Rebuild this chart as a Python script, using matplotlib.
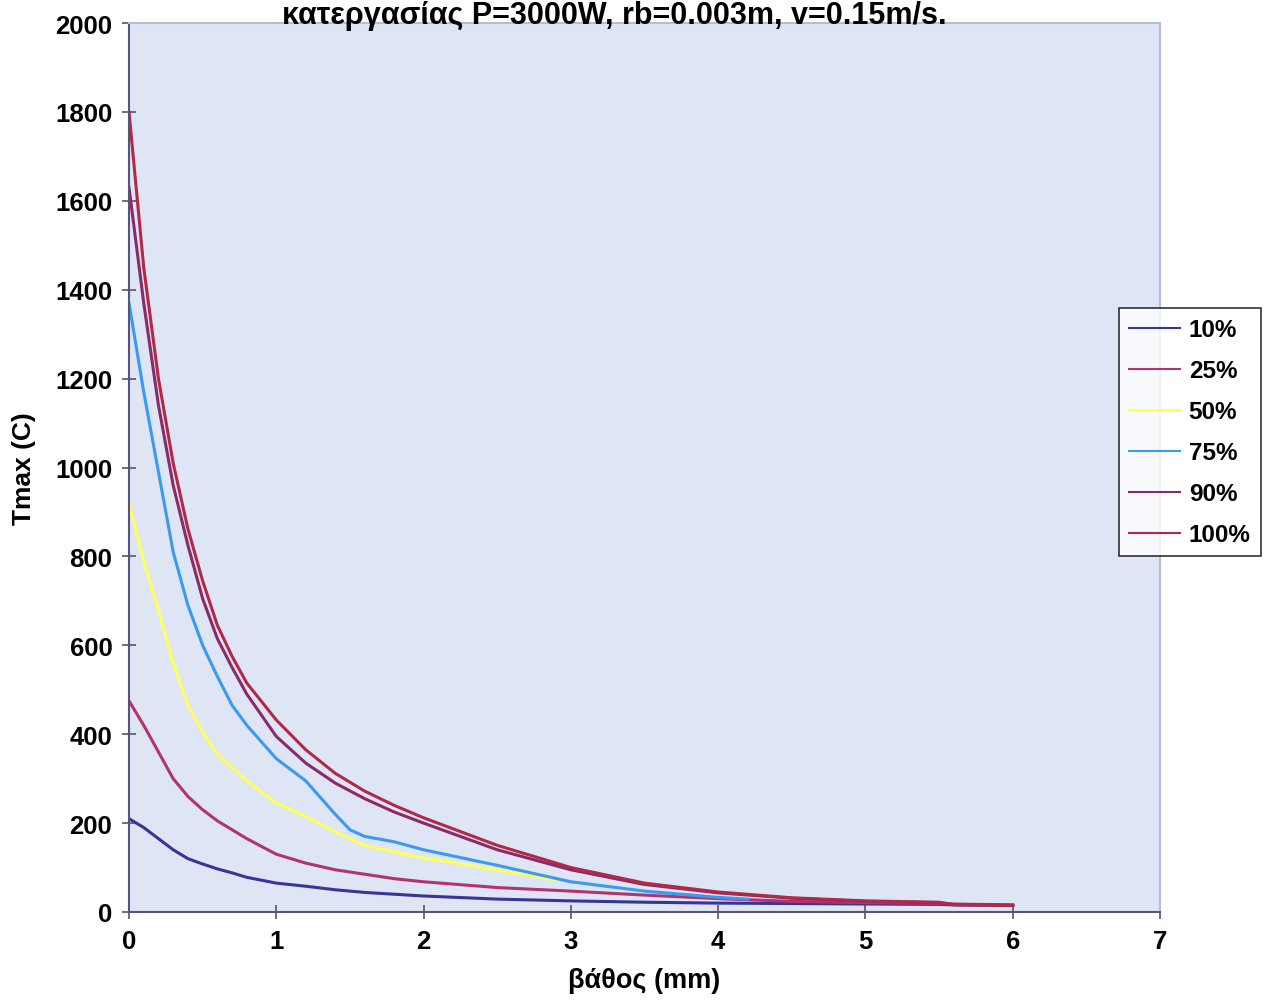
import matplotlib
matplotlib.use('Agg')
import matplotlib.pyplot as plt

plt.rcParams['font.family'] = ['Liberation Sans', 'DejaVu Sans']
plt.rcParams['font.weight'] = 'bold'

# depth (mm)
x_full = [0, 0.1, 0.2, 0.3, 0.4, 0.5, 0.6, 0.7, 0.8, 1.0, 1.2, 1.4, 1.6, 1.8, 2.0,
          2.5, 3.0, 3.5, 4.0, 4.5, 5.0, 5.5, 5.6, 6.0]
x_75 = [0, 0.1, 0.2, 0.3, 0.4, 0.5, 0.6, 0.7, 0.8, 1.0, 1.1, 1.2, 1.4, 1.5, 1.6,
        1.8, 2.0, 2.5, 3.0, 3.5, 4.0, 4.2]
x_50 = [0, 0.1, 0.2, 0.3, 0.4, 0.5, 0.6, 0.7, 0.8, 1.0, 1.2, 1.4, 1.6, 1.8, 2.0,
        2.5, 2.9]

t_10 = [210, 190, 165, 140, 120, 108, 97, 88, 78, 65, 58, 50, 44, 40, 36,
        29, 25, 22, 20, 19, 18, 17, 16, 15]
t_25 = [475, 420, 360, 300, 260, 230, 205, 185, 165, 130, 110, 95, 85, 75, 68,
        55, 47, 38, 30, 24, 21, 19, 18, 16]
t_50 = [920, 790, 680, 560, 465, 405, 355, 325, 295, 245, 215, 180, 150, 135, 122,
        95, 72]
t_75 = [1370, 1170, 990, 810, 690, 600, 530, 465, 420, 345, 320, 295, 220, 185, 170,
        158, 140, 105, 68, 47, 33, 29]
t_90 = [1630, 1370, 1140, 960, 825, 705, 615, 550, 490, 395, 335, 290, 255, 225, 200,
        140, 95, 62, 43, 31, 24, 21, 16, 15]
t_100 = [1800, 1450, 1200, 1010, 862, 745, 645, 575, 515, 432, 365, 312, 272, 240, 212,
         150, 100, 65, 45, 32, 25, 22, 17, 15]

labels = ['10%', '25%', '50%', '75%', '90%', '100%']
colors = ['#35359a', '#b3336e', '#ffff5a', '#3a9af0', '#8c2a66', '#b02a48']

fig = plt.figure(figsize=(12.67, 10.03), dpi=100)
ax = fig.add_axes([129/1267, 90/1003, 1031/1267, 889/1003])
ax.set_facecolor('#dee5f5')

series = [(x_full, t_10), (x_full, t_25), (x_50, t_50), (x_75, t_75),
          (x_full, t_90), (x_full, t_100)]
for (xs, ys), lab, c in zip(series, labels, colors):
    ax.plot(xs, ys, color=c, lw=2.2, label=lab)

ax.set_xlim(0, 7)
ax.set_ylim(0, 2000)
ax.set_xticks(range(0, 8))
ax.set_yticks(range(0, 2001, 200))
ax.tick_params(direction='inout', length=10, width=1.2, color='#555566',
               labelsize=18.5, pad=7)
for lab in ax.get_xticklabels() + ax.get_yticklabels():
    lab.set_fontweight('bold')

for s in ['left', 'bottom']:
    ax.spines[s].set_color('#55557a')
    ax.spines[s].set_linewidth(1.5)
for s in ['top', 'right']:
    ax.spines[s].set_color('#b8bccc')
    ax.spines[s].set_linewidth(1.5)

ax.set_xlabel('βάθος (mm)', fontsize=19.5, fontweight='bold', labelpad=10)
ax.set_ylabel('Tmax (C)', fontsize=19, fontweight='bold', labelpad=14)

# title (upper line of the original is outside the picture)
fig.text(614/1267, 1 - 1/1003, 'κατεργασίας P=3000W, rb=0.003m, v=0.15m/s.',
         ha='center', va='top', fontsize=22, fontweight='bold')

leg = fig.legend(loc='upper left', bbox_to_anchor=(1119/1267, 1 - 309/1003),
                 fontsize=17.5, frameon=True, fancybox=False, edgecolor='black',
                 handlelength=2.1, labelspacing=0.74, borderpad=0.42,
                 handletextpad=0.35, borderaxespad=0)
leg.get_frame().set_linewidth(1.2)
for t in leg.get_texts():
    t.set_fontweight('bold')
for h in leg.get_lines():
    h.set_linewidth(1.5)

fig.savefig('out.png', dpi=100, facecolor='white')
